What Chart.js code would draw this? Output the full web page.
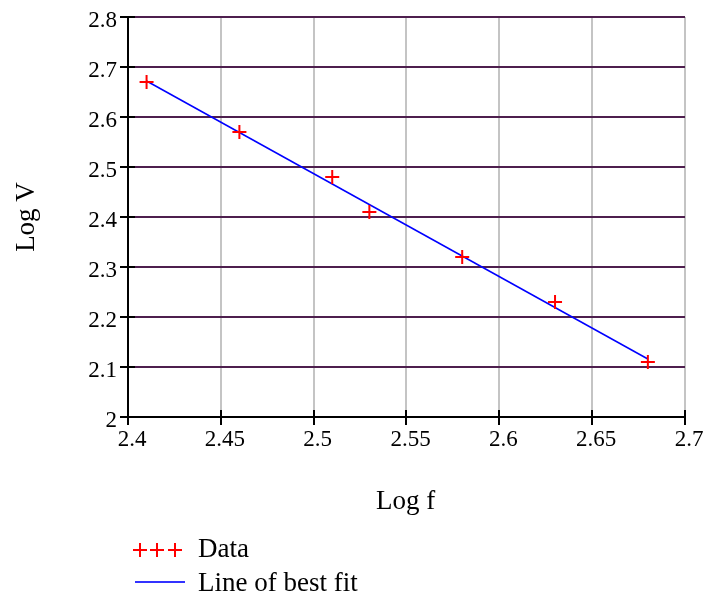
<!DOCTYPE html>
<html>
<head>
<meta charset="utf-8">
<title>Log V vs Log f</title>
<script src="https://cdn.jsdelivr.net/npm/chart.js@4.4.1/dist/chart.umd.min.js"></script>
<style>
  html, body { margin: 0; padding: 0; background: #fff; }
  #wrap { width: 704px; height: 597px; }
</style>
</head>
<body>
<div id="wrap"><canvas id="chart" width="704" height="597"></canvas></div>
<script>
// measured points (log f, log V)
var logF = [2.41, 2.46, 2.51, 2.53, 2.58, 2.63, 2.68];
var logV = [2.67, 2.57, 2.48, 2.41, 2.32, 2.23, 2.11];

// best fit line end points
var fitX = [2.41, 2.68];
var fitY = [2.672, 2.116];

var xTickLabels = ["2.4", "2.45", "2.5", "2.55", "2.6", "2.65", "2.7"];
var yTickLabels = ["2", "2.1", "2.2", "2.3", "2.4", "2.5", "2.6", "2.7", "2.8"];

var xTitle = "Log f";
var yTitle = "Log V";
var legendLabels = ["Data", "Line of best fit"];

var SERIF = "'Liberation Serif', 'Times New Roman', serif";

Chart.defaults.font.family = SERIF;
Chart.defaults.font.size = 23;
Chart.defaults.color = "#000";

function toPoints(xs, ys) {
  var out = [];
  for (var i = 0; i < xs.length; i++) out.push({ x: xs[i], y: ys[i] });
  return out;
}

// titles, legend and the inner halves of the tick marks
var extras = {
  id: "extras",
  afterDraw: function(chart) {
    var ctx = chart.ctx;
    var area = chart.chartArea;
    var xs = chart.scales.x, ys = chart.scales.y;
    ctx.save();

    // tick marks poking into the plot
    ctx.strokeStyle = "#000";
    ctx.lineWidth = 2;
    ctx.beginPath();
    xs.ticks.forEach(function(t) {
      var px = Math.round(xs.getPixelForValue(t.value));
      ctx.moveTo(px, area.bottom);
      ctx.lineTo(px, area.bottom - 7);
    });
    ys.ticks.forEach(function(t) {
      var py = Math.round(ys.getPixelForValue(t.value));
      ctx.moveTo(area.left, py);
      ctx.lineTo(area.left + 7, py);
    });
    ctx.stroke();

    ctx.fillStyle = "#000";
    ctx.font = "27px " + SERIF;
    ctx.textAlign = "center";
    ctx.textBaseline = "alphabetic";
    ctx.fillText(xTitle, (area.left + area.right) / 2 - 1, 509);

    ctx.save();
    ctx.translate(34, (area.top + area.bottom) / 2);
    ctx.rotate(-Math.PI / 2);
    ctx.fillText(yTitle, 0, 0);
    ctx.restore();

    // legend
    ctx.strokeStyle = "#ff0000";
    ctx.lineWidth = 2;
    ctx.beginPath();
    [140, 157, 175].forEach(function(cx) {
      ctx.moveTo(cx - 7, 550); ctx.lineTo(cx + 7, 550);
      ctx.moveTo(cx, 543); ctx.lineTo(cx, 557);
    });
    ctx.stroke();

    ctx.strokeStyle = "#3333ff";
    ctx.beginPath();
    ctx.moveTo(135, 582);
    ctx.lineTo(185, 582);
    ctx.stroke();

    ctx.textAlign = "left";
    ctx.fillText(legendLabels[0], 198, 557);
    ctx.fillText(legendLabels[1], 198, 591);
    ctx.restore();
  }
};

new Chart(document.getElementById("chart"), {
  type: "scatter",
  data: {
    datasets: [
      {
        label: legendLabels[0],
        data: toPoints(logF, logV),
        pointStyle: "cross",
        pointRadius: 7,
        pointHoverRadius: 7,
        borderColor: "#ff0000",
        backgroundColor: "#ff0000",
        borderWidth: 2,
        order: 0
      },
      {
        label: legendLabels[1],
        type: "line",
        data: toPoints(fitX, fitY),
        showLine: true,
        pointRadius: 0,
        borderColor: "#0000ff",
        borderWidth: 1.5,
        fill: false,
        order: 1
      }
    ]
  },
  options: {
    responsive: false,
    animation: false,
    layout: { padding: { top: 17, right: 19, left: 0, bottom: 0 } },
    plugins: {
      legend: { display: false },
      tooltip: { enabled: false }
    },
    scales: {
      x: {
        type: "linear",
        min: 2.4,
        max: 2.7,
        afterFit: function(scale) { scale.height = 180; },
        ticks: {
          stepSize: 0.05,
          padding: 1,
          labelOffset: 4,
          color: "#000",
          font: { family: SERIF, size: 23 },
          maxRotation: 0,
          autoSkip: false,
          callback: function(v, i) { return xTickLabels[i]; }
        },
        grid: {
          color: "#c4c4c4",
          lineWidth: 2,
          tickColor: "#000",
          tickLength: 8
        },
        border: { color: "#000", width: 2 }
      },
      y: {
        type: "linear",
        min: 2,
        max: 2.8,
        afterFit: function(scale) { scale.width = 128; },
        ticks: {
          stepSize: 0.1,
          padding: 3,
          labelOffset: 4,
          color: "#000",
          font: { family: SERIF, size: 23 },
          autoSkip: false,
          callback: function(v, i) { return yTickLabels[i]; }
        },
        grid: {
          color: "#4e1f4e",
          lineWidth: 2,
          tickColor: "#000",
          tickLength: 8
        },
        border: { color: "#000", width: 2 }
      }
    }
  },
  plugins: [extras]
});
</script>
</body>
</html>
